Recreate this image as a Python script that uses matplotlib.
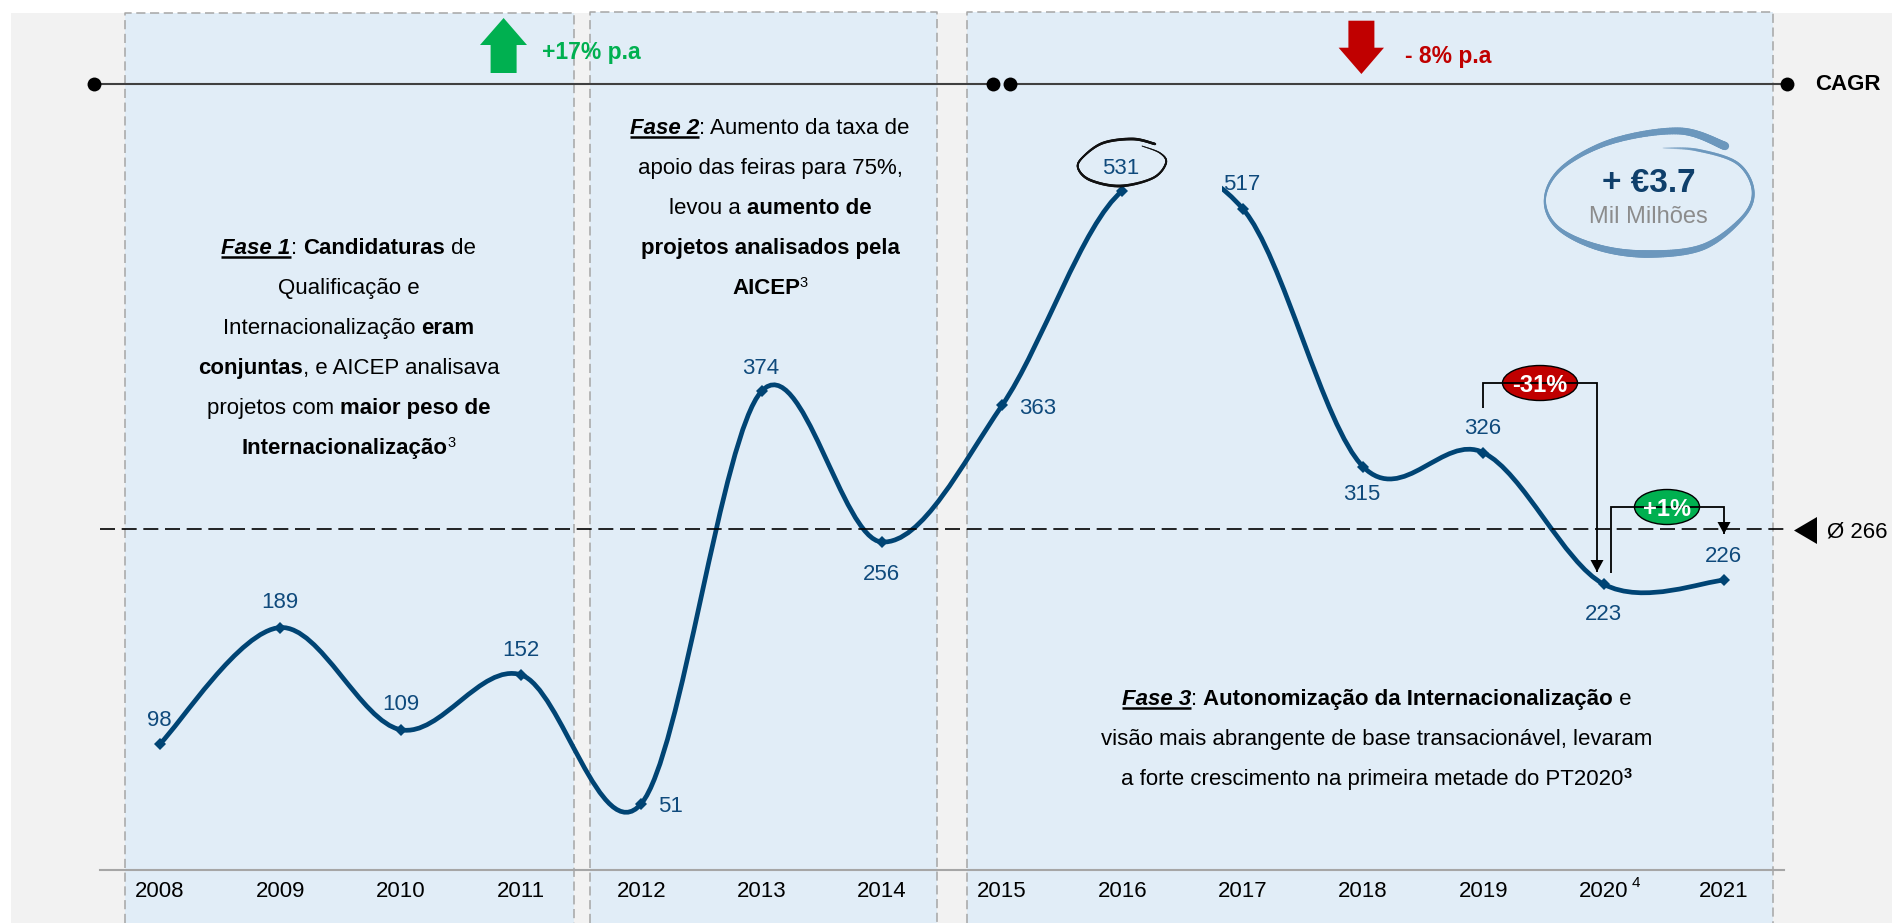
import matplotlib
matplotlib.use('Agg')
import matplotlib.pyplot as plt
from matplotlib.patches import Rectangle, Ellipse, Polygon, PathPatch
from matplotlib.path import Path
from matplotlib.collections import LineCollection
import numpy as np

plt.rcParams['font.family'] = ['Liberation Sans', 'DejaVu Sans']

# data
years = [2008, 2009, 2010, 2011, 2012, 2013, 2014, 2015, 2016, 2017, 2018, 2019, 2020, 2021]
values = [98, 189, 109, 152, 51, 374, 256, 363, 531, 517, 315, 326, 223, 226]
year_labels = [str(y) for y in years]
mean_value = 266

# layout, in pixels of the picture
W, H = 1892, 923
label_pos = [(159, 720), (280, 603), (401, 705), (521, 651), (670, 807), (761, 369), (881, 574),
             (1038, 409), (1121, 168), (1242, 185), (1362, 495), (1483, 429), (1603, 614), (1723, 556)]
panels = [(125, 574, 13), (590, 937, 12), (967, 1773, 12)]

BLUE = '#004474'
LABEL = '#0F4A7C'
GREEN = '#00B050'
RED = '#C00000'
SIZE = 16

fig = plt.figure(figsize=(W / 100, H / 100), dpi=100, facecolor='white')

# pixel axes under and over the data axes
bg = fig.add_axes([0, 0, 1, 1], zorder=0)
top = fig.add_axes([0, 0, 1, 1], zorder=2)
for a in (bg, top):
    a.set_xlim(0, W)
    a.set_ylim(H, 0)
    a.axis('off')
    a.patch.set_alpha(0)

bg.add_patch(Rectangle((11, 13), W - 11, H - 13, fc='#F2F2F2', ec='none'))
for x0, x1, y0 in panels:
    bg.add_patch(Rectangle((x0, y0), x1 - x0, H - y0, fc='#E1EDF7', ec='none'))
    bg.plot([x0, x0, x1, x1], [H, y0, y0, H], color='#A6A6A6', lw=1.1, ls=(0, (6, 3)))

# data axes, bottom spine is the baseline
ax = fig.add_axes([100 / W, (H - 870) / H, 1684 / W, 870 / H], zorder=1)
ax.patch.set_alpha(0)
ax.set_xlim(2008 + (100 - 160) / 120.3, 2008 + (1784 - 160) / 120.3)
ax.set_ylim(-0.86, 680.4)
for s in ('left', 'right', 'top'):
    ax.spines[s].set_visible(False)
ax.spines['bottom'].set_color('#A6A6A6')
ax.spines['bottom'].set_linewidth(1.5)
ax.set_yticks([])
ax.set_xticks(years)
ax.set_xticklabels(year_labels, fontsize=SIZE, color='black')
ax.tick_params(axis='x', length=0, pad=8)


def smooth_segments(xs, ys):
    # Catmull-Rom handles, same look as a smoothed office chart line
    segs = []
    n = len(xs)
    for i in range(n - 1):
        a = max(i - 1, 0)
        b = min(i + 2, n - 1)
        c1 = (xs[i] + (xs[i + 1] - xs[a]) / 6, ys[i] + (ys[i + 1] - ys[a]) / 6)
        c2 = (xs[i + 1] - (xs[b] - xs[i]) / 6, ys[i + 1] - (ys[b] - ys[i]) / 6)
        segs.append(((xs[i], ys[i]), c1, c2, (xs[i + 1], ys[i + 1])))
    return segs


segs = smooth_segments(years, values)
verts, codes = [], []
for i, s in enumerate(segs):
    if years[i] == 2016:
        continue
    if i == 0 or years[i - 1] == 2016:
        verts.append(s[0])
        codes.append(Path.MOVETO)
    verts.extend(s[1:])
    codes.extend([Path.CURVE4] * 3)
ax.add_patch(PathPatch(Path(verts, codes), fc='none', ec=BLUE, lw=3.4, capstyle='butt', clip_on=False))

# the 2016-2017 stretch only shows its last part
gap = PathPatch(Path(segs[years.index(2016)], [Path.MOVETO, Path.CURVE4, Path.CURVE4, Path.CURVE4]),
                fc='none', ec=BLUE, lw=3.4, capstyle='butt')
ax.add_patch(gap)
gap.set_clip_path(Rectangle((1222, 0), 60, 400, transform=top.transData))

ax.plot(years, values, ls='none', marker='D', ms=6.5, color=BLUE, mew=0)
ax.axhline(mean_value, color='black', lw=1.2, ls=(0, (9, 4)))

# value labels
for v, (x, y) in zip(values, label_pos):
    top.text(x, y, str(v), color=LABEL, fontsize=SIZE, ha='center', va='center')
top.text(1636, 883, '4', color='black', fontsize=11, ha='center', va='center')

renderer = fig.canvas.get_renderer()


def text_w(s, **kw):
    t = top.text(0, 0, 'x' + s + 'x', **kw)
    w = t.get_window_extent(renderer).width
    t.set_text('xx')
    w -= t.get_window_extent(renderer).width
    t.remove()
    return w


def rich_line(cx, cy, runs):
    # runs are (text, weight, style, size, rise, underline)
    widths = [text_w(r[0], fontsize=r[3], fontweight=r[1], fontstyle=r[2]) for r in runs]
    x = cx - sum(widths) / 2
    base = cy + 7
    for r, w in zip(runs, widths):
        top.text(x, base - r[4], r[0], fontsize=r[3], fontweight=r[1], fontstyle=r[2],
                 color='black', ha='left', va='baseline')
        if r[5]:
            top.plot([x, x + w], [base + 3, base + 3], color='black', lw=1.8, solid_capstyle='butt')
        x += w


def n(s):
    return (s, 'normal', 'normal', SIZE, 0, False)


def b(s):
    return (s, 'bold', 'normal', SIZE, 0, False)


def fase(s):
    return (s, 'bold', 'italic', SIZE, 0, True)


def sup(s, weight='normal'):
    return (s, weight, 'normal', 10.5, 7, False)


fase1 = [[fase('Fase 1'), n(': '), b('Candidaturas'), n(' de')],
         [n('Qualificação e')],
         [n('Internacionalização '), b('eram')],
         [b('conjuntas'), n(', e AICEP analisava')],
         [n('projetos com '), b('maior peso de')],
         [b('Internacionalização'), sup('3')]]
fase2 = [[fase('Fase 2'), n(': Aumento da taxa de')],
         [n('apoio das feiras para 75%,')],
         [n('levou a '), b('aumento de')],
         [b('projetos analisados pela')],
         [b('AICEP'), sup('3')]]
fase3 = [[fase('Fase 3'), n(': '), b('Autonomização da Internacionalização'), n(' e')],
         [n('visão mais abrangente de base transacionável, levaram')],
         [n('a forte crescimento na primeira metade do PT2020'), sup('3', 'bold')]]
for runs, y in zip(fase1, [247, 287, 327, 367, 407, 447]):
    rich_line(348.5, y, runs)
for runs, y in zip(fase2, [127, 167, 207, 247, 287]):
    rich_line(770, y, runs)
for runs, y in zip(fase3, [698, 738, 778]):
    rich_line(1376.5, y, runs)

# CAGR line
top.plot([94, 993], [84, 84], color='#404040', lw=1.5)
top.plot([1009, 1787], [84, 84], color='#404040', lw=1.5)
top.plot([94, 993, 1009.5, 1787], [84, 84, 84, 84], ls='none', marker='o', ms=10, color='black', mew=0)
top.text(1815, 85, 'CAGR', fontsize=SIZE, fontweight='bold', color='black', va='center', ha='left')

# big arrows
top.add_patch(Polygon([(503.6, 18), (527, 45), (516.6, 45), (516.6, 73), (490.6, 73), (490.6, 45), (480, 45)],
                      fc=GREEN, ec='none'))
top.text(542, 53, '+17% p.a', fontsize=16.5, fontweight='bold', color=GREEN, va='center', ha='left')
top.add_patch(Polygon([(1361.4, 74), (1384, 47.7), (1374.4, 47.7), (1374.4, 20.7), (1348.4, 20.7),
                       (1348.4, 47.7), (1338.6, 47.7)], fc=RED, ec='none'))
top.text(1405, 56, '- 8% p.a', fontsize=16.5, fontweight='bold', color=RED, va='center', ha='left')

# average marker
top.add_patch(Polygon([(1794, 530.5), (1817, 517), (1817, 544)], fc='black', ec='none'))
top.text(1827, 531.5, 'Ø 266', fontsize=SIZE, color='black', va='center', ha='left')


def bracket(pts, cx, cy, w, h, color, label):
    xs, ys = zip(*pts)
    top.plot(xs, ys, color='black', lw=1.3, solid_capstyle='butt', solid_joinstyle='miter')
    tx, ty = pts[-1]
    top.add_patch(Polygon([(tx, ty), (tx - 6.5, ty - 12), (tx + 6.5, ty - 12)], fc='black', ec='none'))
    top.add_patch(Ellipse((cx, cy), w, h, fc=color, ec='black', lw=1))
    top.text(cx, cy + 2, label, color='white', fontsize=17, fontweight='bold', ha='center', va='center')


bracket([(1483, 408), (1483, 383), (1597, 383), (1597, 572)], 1540, 383, 75, 35, RED, '-31%')
bracket([(1611, 573), (1611, 507), (1724, 507), (1724, 534)], 1667, 507, 65, 35, GREEN, '+1%')


def sketch(points, widths, color, alphas=None):
    # hand drawn loop through a few points, width varies along the stroke
    p = np.array(points, dtype=float)
    q = np.vstack([p[0], p, p[-1]])
    out = []
    for i in range(1, len(q) - 2):
        for t in np.linspace(0, 1, 24, endpoint=False):
            out.append(0.5 * (2 * q[i] + (q[i + 1] - q[i - 1]) * t
                              + (2 * q[i - 1] - 5 * q[i] + 4 * q[i + 1] - q[i + 2]) * t ** 2
                              + (3 * q[i] - q[i - 1] - 3 * q[i + 1] + q[i + 2]) * t ** 3))
    out = np.array(out + [p[-1]])
    u = np.linspace(0, len(p) - 1, len(out) - 1)
    w = np.interp(u, np.arange(len(p)), widths)
    rgba = np.tile(matplotlib.colors.to_rgba(color), (len(u), 1))
    if alphas is not None:
        rgba[:, 3] = np.interp(u, np.arange(len(p)), alphas)
    segments = np.stack([out[:-1], out[1:]], axis=1)
    top.add_collection(LineCollection(segments, linewidths=w, colors=rgba, capstyle='round'))


ring = [(1725, 146), (1680, 131), (1613, 141), (1563, 167), (1545, 198), (1557, 227), (1597, 247),
        (1647, 254), (1703, 247), (1743, 217), (1753, 190), (1737, 163), (1697, 150), (1663, 148)]
sketch(ring, [6, 5, 4, 2.5, 1.5, 2.5, 4.5, 5.5, 4.5, 2.5, 2, 2, 2, 0.8], '#6B97BD',
       [1, 1, 1, 1, 1, 1, 1, 1, 0.9, 0.9, 1, 1, 0.8, 0.2])
top.text(1648.5, 183, '+ €3.7', fontsize=24, fontweight='bold', color='#0F3F6B', ha='center', va='center')
top.text(1648.5, 217, 'Mil Milhões', fontsize=17, color='#8C8C8C', ha='center', va='center')

loop = [(1155, 144), (1133, 139), (1103, 143), (1083, 157), (1078, 168), (1090, 180), (1120, 186),
        (1153, 178), (1166, 163), (1160, 153), (1142, 146)]
sketch(loop, [1.8, 2, 1.8, 1.4, 1.4, 1.8, 2, 1.6, 1.4, 1, 0.6], '#111111')

fig.savefig('out.png', dpi=100, facecolor=fig.get_facecolor())
